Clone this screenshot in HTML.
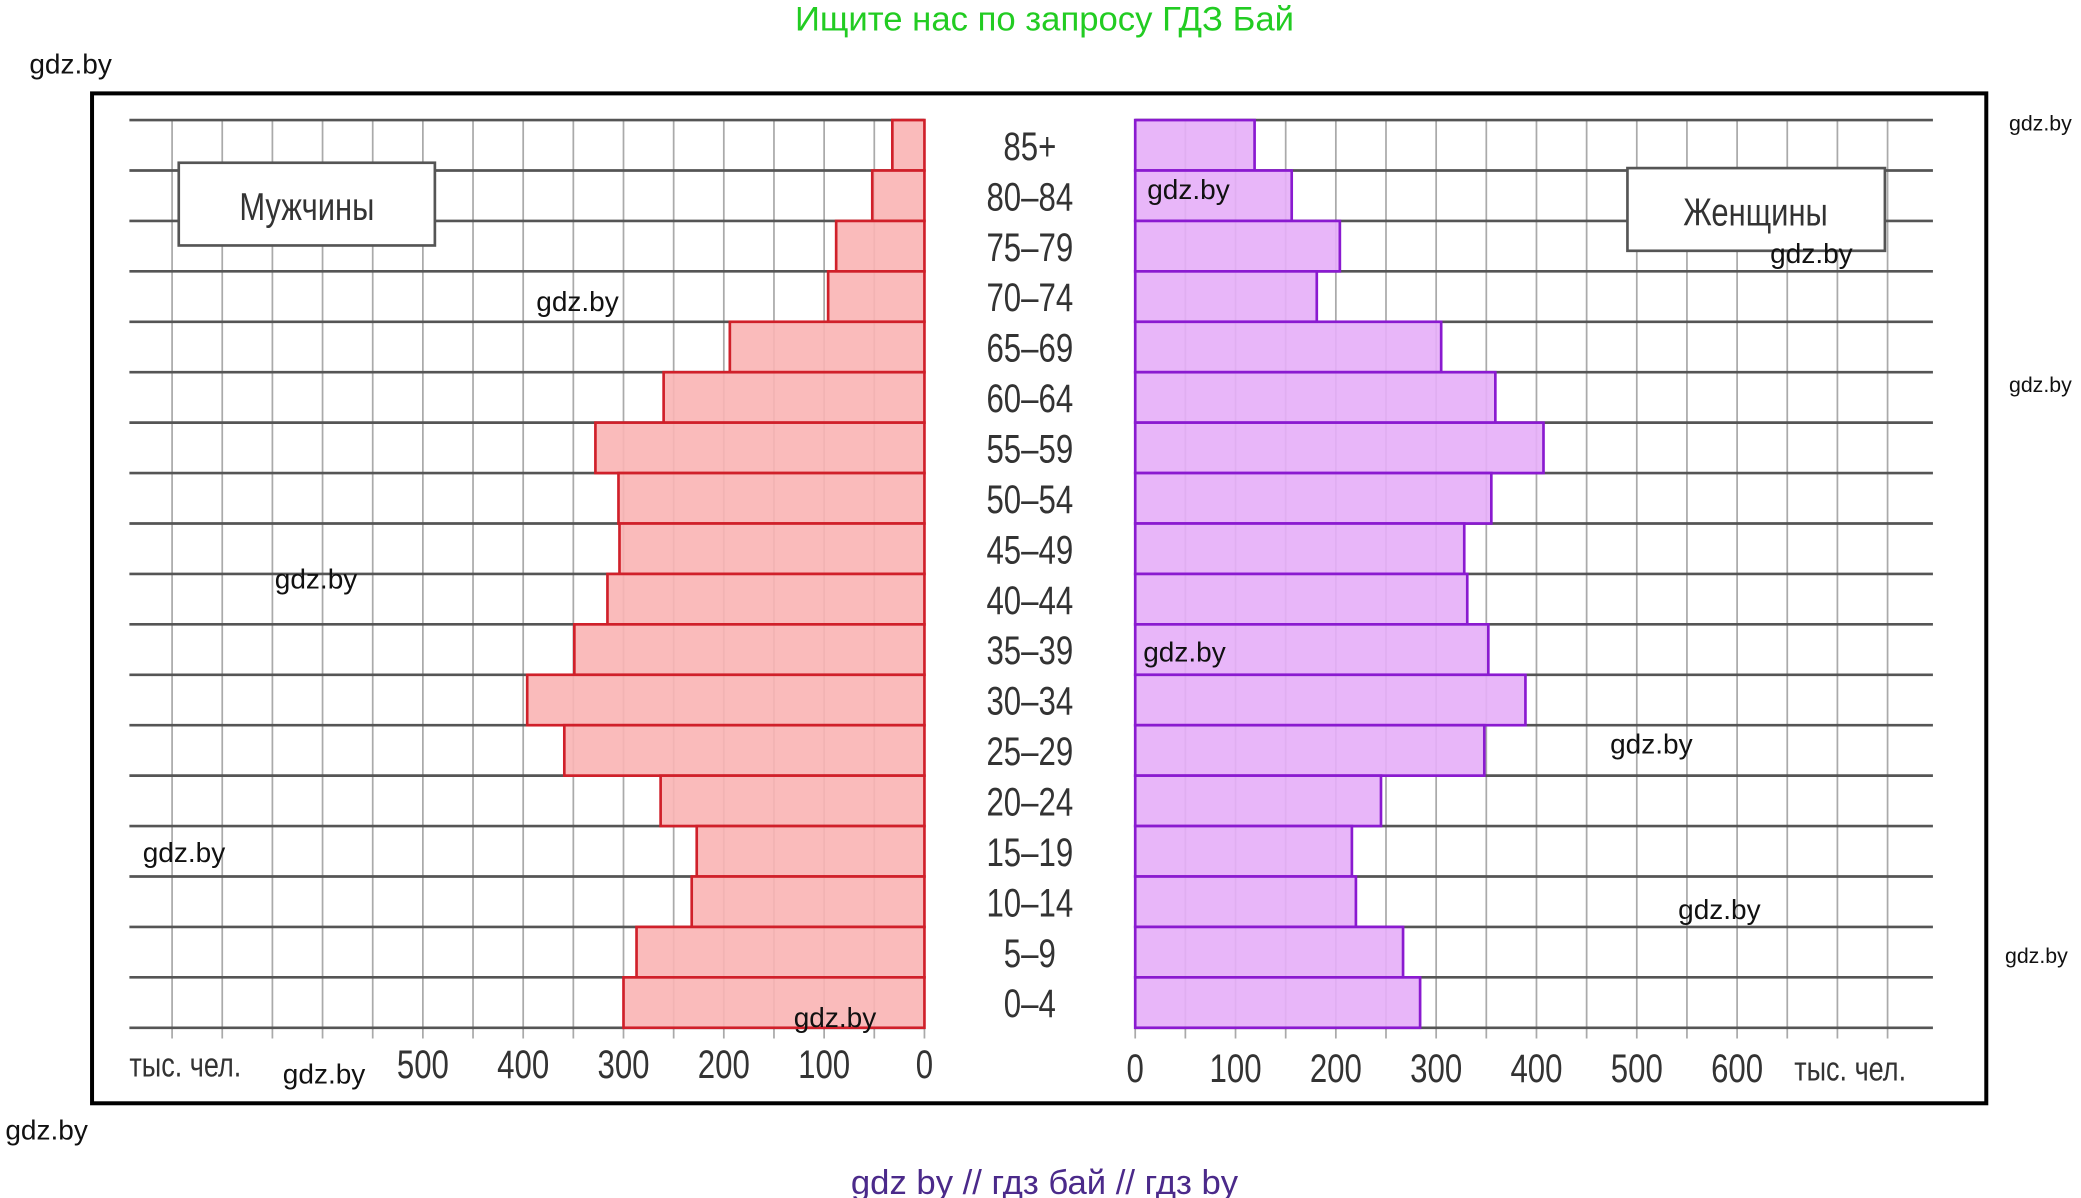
<!DOCTYPE html>
<html><head><meta charset="utf-8"><style>
html,body{margin:0;padding:0;background:#fff;}
svg{display:block;}
.wm{font-family:"Liberation Sans",sans-serif;font-size:21px;fill:#111;}
.tk{font-family:"Liberation Sans",sans-serif;font-size:30px;fill:#333;}
</style></head><body>
<svg id="chart" width="2081" height="1198" viewBox="0 0 1560 898" preserveAspectRatio="none" xmlns="http://www.w3.org/2000/svg">
<text x="783" y="23" text-anchor="middle" font-family="Liberation Sans,sans-serif" font-size="26" fill="#22cc22">Ищите нас по запросу ГДЗ Бай</text>
<rect x="69" y="70" width="1420" height="757" fill="none" stroke="#000" stroke-width="3"/>
<g id="grid"></g>
<g id="bars"></g>
<g id="labels"></g>
<rect x="134" y="122" width="192" height="62" fill="#fff" stroke="#555" stroke-width="2"/>
<text transform="translate(230,165) scale(0.8,1)" text-anchor="middle" class="tk" style="font-size:29px">Мужчины</text>
<rect x="1220" y="126" width="193" height="62" fill="#fff" stroke="#555" stroke-width="2"/>
<text transform="translate(1316,169) scale(0.8,1)" text-anchor="middle" class="tk" style="font-size:29px">Женщины</text>
<text transform="translate(97,807) scale(0.78,1)" class="tk" style="font-size:26px">тыс. чел.</text>
<text transform="translate(1345,810) scale(0.78,1)" class="tk" style="font-size:26px">тыс. чел.</text>
<g id="wms">
<text class="wm" x="22" y="55">gdz.by</text>
<text class="wm" x="4" y="854">gdz.by</text>
<text class="wm" x="402" y="233">gdz.by</text>
<text class="wm" x="206" y="441">gdz.by</text>
<text class="wm" x="107" y="646">gdz.by</text>
<text class="wm" x="212" y="812">gdz.by</text>
<text class="wm" x="595" y="770">gdz.by</text>
<text class="wm" x="860" y="149">gdz.by</text>
<text class="wm" x="1327" y="197">gdz.by</text>
<text class="wm" x="857" y="496">gdz.by</text>
<text class="wm" x="1207" y="565">gdz.by</text>
<text class="wm" x="1258" y="689">gdz.by</text>
<text class="wm" x="1506" y="98" style="font-size:16px">gdz.by</text>
<text class="wm" x="1506" y="294" style="font-size:16px">gdz.by</text>
<text class="wm" x="1503" y="722" style="font-size:16px">gdz.by</text>
</g>
<text x="783" y="895" text-anchor="middle" font-family="Liberation Sans,sans-serif" font-size="26" fill="#4b2a8a">gdz by  //  гдз бай  //  гдз by</text>
</svg>
<script>
const ageGroups = ["85+","80–84","75–79","70–74","65–69","60–64","55–59","50–54","45–49","40–44","35–39","30–34","25–29","20–24","15–19","10–14","5–9","0–4"];
const maleValues = [32,52,88,96,194,260,328,305,304,316,349,396,359,263,227,232,287,300];
const femaleValues = [119,156,204,181,305,359,407,355,328,331,352,389,348,245,216,220,267,284];
const maleTicks = [0,100,200,300,400,500];
const femaleTicks = [0,100,200,300,400,500,600];
const NS="http://www.w3.org/2000/svg";
const top0=90, rowH=37.8, pxPer=0.752;
const mX0=693, mXmin=97, fX0=851, fXmax=1449;
const mx=v=>mX0-v*pxPer, fx=v=>fX0+v*pxPer, ry=i=>top0+i*rowH;
const bottom=ry(ageGroups.length);
function mk(tag,attrs,parent){const e=document.createElementNS(NS,tag);for(const k in attrs)e.setAttribute(k,attrs[k]);document.getElementById(parent).appendChild(e);return e;}
for(let v=0;mx(v)>=mXmin-1;v+=50){const l=mk('line',{x1:mx(v),x2:mx(v),y1:top0,y2:bottom+8,stroke:'#aaa','stroke-width':1.3},'grid');

}
for(let v=0;fx(v)<=fXmax+1;v+=50){const l=mk('line',{x1:fx(v),x2:fx(v),y1:top0,y2:bottom+8,stroke:'#aaa','stroke-width':1.3},'grid');

}
for(let i=0;i<=ageGroups.length;i++){
const a=mk('line',{x1:mXmin,x2:mX0,y1:ry(i),y2:ry(i),stroke:'#555','stroke-width':2},'grid');


const b=mk('line',{x1:fX0,x2:fXmax,y1:ry(i),y2:ry(i),stroke:'#555','stroke-width':2},'grid');

}
ageGroups.forEach((g,i)=>{
const m=mk('rect',{x:mx(maleValues[i]),y:ry(i),width:mX0-mx(maleValues[i]),height:rowH,fill:'#f9b4b4','fill-opacity':0.9,stroke:'#d0202a','stroke-width':2},'bars');


const f=mk('rect',{x:fX0,y:ry(i),width:fx(femaleValues[i])-fX0,height:rowH,fill:'#e6aef8','fill-opacity':0.9,stroke:'#8a1ad0','stroke-width':2},'bars');


const t=mk('text',{transform:'translate(772,'+(ry(i)+rowH/2+11)+') scale(0.78,1)','text-anchor':'middle',class:'tk'},'labels');
t.textContent=g;

});
maleTicks.forEach(v=>{const t=mk('text',{transform:'translate('+mx(v)+',808) scale(0.78,1)','text-anchor':'middle',class:'tk'},'labels');t.textContent=v;

});
femaleTicks.forEach(v=>{const t=mk('text',{transform:'translate('+fx(v)+',811) scale(0.78,1)','text-anchor':'middle',class:'tk'},'labels');t.textContent=v;

});
</script>
</body></html>
